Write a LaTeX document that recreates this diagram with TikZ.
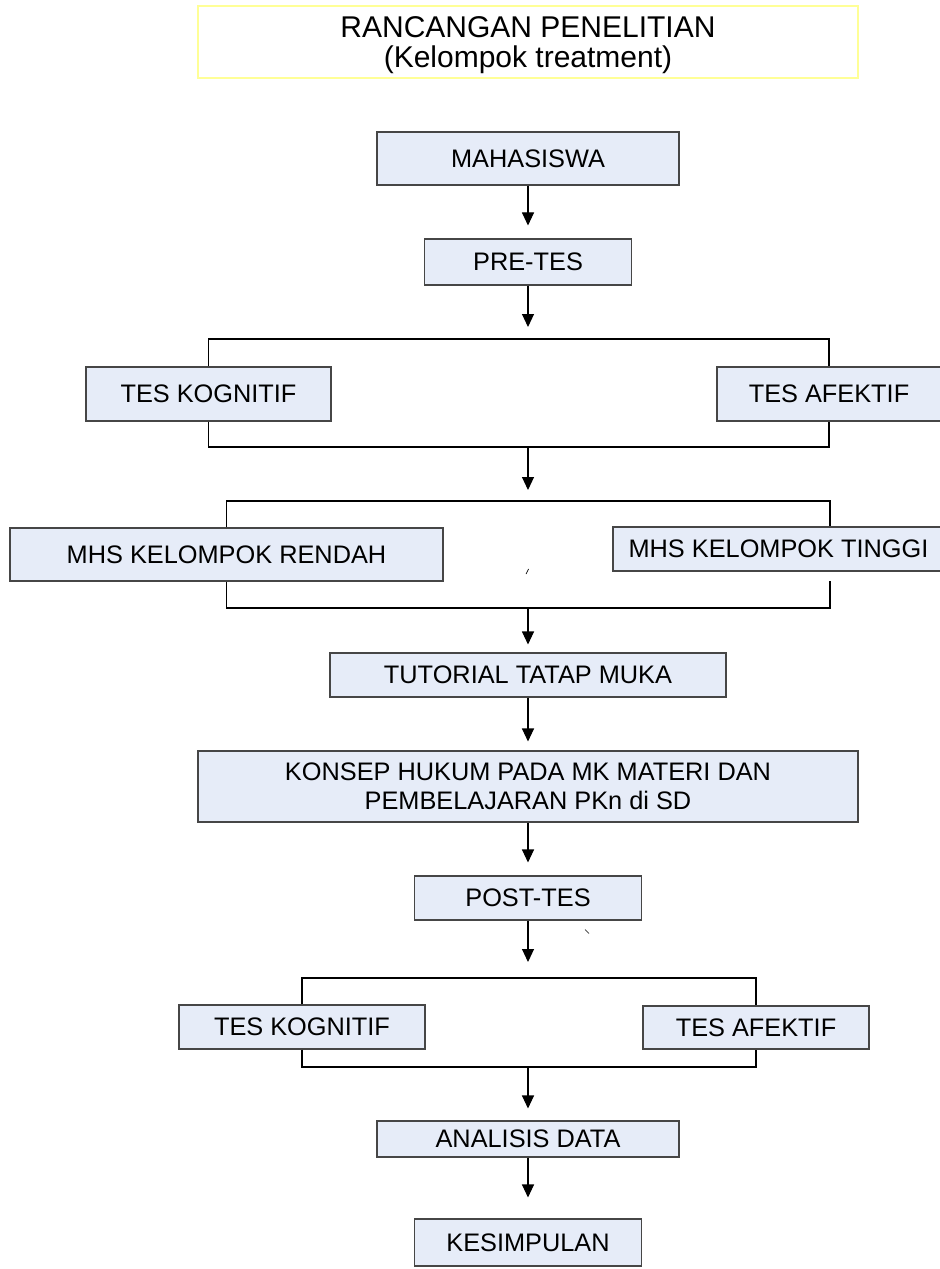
\documentclass[tikz,border=0pt]{standalone}
\usepackage{fontspec}
\setmainfont{Liberation Sans}
\usetikzlibrary{arrows.meta}
\definecolor{boxfill}{RGB}{230,236,248}
\definecolor{boxline}{RGB}{70,70,70}
\definecolor{titleline}{RGB}{255,255,150}
\begin{document}
\begin{tikzpicture}[x=0.75pt,y=-0.75pt,
  box/.style={draw=boxline, fill=boxfill, line width=0.8pt, inner sep=0pt, align=center, font=\fontsize{19}{21.5}\selectfont},
  sz/.style 2 args={minimum width=#1*0.75pt, minimum height=#2*0.75pt},
  conn/.style={draw=black, line width=0.8pt},
  arr/.style={conn, -{Triangle[width=9pt,length=9.75pt]}},
]
\fill[white] (0,0) rectangle (939,1269);
\useasboundingbox (0,0) rectangle (939,1269);

% title
\node[draw=titleline, line width=0.8pt, inner sep=0pt, sz={660}{72}, align=center,
      text depth=-1pt,
      font=\fontsize{22.5}{22.5}\selectfont] (title) at (528,42)
      {RANCANGAN PENELITIAN\\(Kelompok treatment)};

% boxes
\node[box, sz={302}{53}] (mhs) at (528,158.5) {MAHASISWA};
\node[box, sz={207}{46}] (pre) at (528,262) {PRE-TES};
\node[box, sz={245}{54}] (tk1) at (208.5,394) {TES KOGNITIF};
\node[box, sz={224}{54}] (ta1) at (829,394) {TES AFEKTIF};
\node[box, sz={433}{53}] (rendah) at (226.5,554.5) {MHS KELOMPOK RENDAH};
\node[box, sz={331}{44}] (tinggi) at (778.5,549) {MHS KELOMPOK TINGGI};
\node[box, sz={396}{44}] (tut) at (528,675) {TUTORIAL TATAP MUKA};
\node[box, sz={660}{71}] (konsep) at (528,786.5) {KONSEP HUKUM PADA MK MATERI DAN\\PEMBELAJARAN PKn di SD};
\node[box, sz={227}{44}] (post) at (528,898) {POST-TES};
\node[box, sz={246}{44}] (tk2) at (302,1027) {TES KOGNITIF};
\node[box, sz={226}{43}] (ta2) at (756,1027.5) {TES AFEKTIF};
\node[box, sz={302}{36}] (ana) at (528,1139) {ANALISIS DATA};
\node[box, sz={227}{47}] (kes) at (528,1242.5) {KESIMPULAN};

% bracket coordinates
\coordinate (b1t) at (528,339);
\coordinate (b1b) at (528,447);
\coordinate (b2t) at (528,501);
\coordinate (b2b) at (528,608);
\coordinate (b2tr) at (830,501);
\coordinate (b2br) at (830,608);
\coordinate (b2e) at (830,581);
\coordinate (b3t) at (528,978);
\coordinate (b3b) at (528,1067);

% connectors
\draw[arr, shorten >=9.75pt] (mhs) -- (pre);
\draw[arr, shorten >=9pt] (pre.south) -- (b1t);
\draw[conn] (tk1.north) |- (b1t) -| (ta1.north);
\draw[conn] (tk1.south) |- (b1b) -| (ta1.south);
\draw[arr, shorten >=8.25pt] (b1b) -- (b2t);
\draw[conn] (rendah.north) |- (b2t) -- (b2tr) -- (b2tr |- tinggi.north);
\draw[conn] (rendah.south) |- (b2b) -- (b2br) -- (b2e);
\draw[arr, shorten >=6pt] (b2b) -- (tut.north);
\draw[arr, shorten >=6.75pt] (tut) -- (konsep);
\draw[arr, shorten >=9.75pt] (konsep) -- (post);
\draw[arr, shorten >=12pt] (post.south) -- (b3t);
\draw[conn] (tk2.north) |- (b3t) -| (ta2.north);
\draw[conn] (tk2.south) |- (b3b) -| (ta2.south);
\draw[arr, shorten >=9pt] (b3b) -- (ana.north);
\draw[arr, shorten >=15.75pt] (ana) -- (kes);

% stray marks
\draw[line width=0.5pt] (526,574) -- (528.5,569);
\draw[line width=0.5pt] (585,929.5) -- (589,933.5);
\end{tikzpicture}
\end{document}
